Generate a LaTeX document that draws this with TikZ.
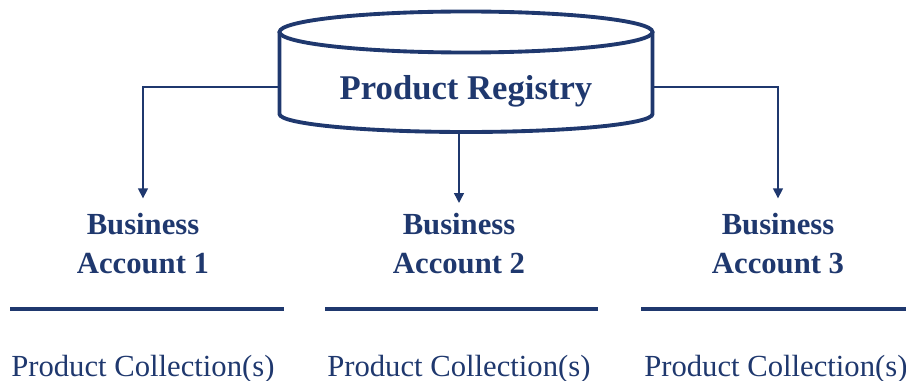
\documentclass[tikz,border=0pt]{standalone}
\usepackage{fontspec}
\setmainfont{Liberation Serif}
\usetikzlibrary{arrows.meta}
\usepackage{xcolor}
\definecolor{navy}{RGB}{31,56,110}

\begin{document}
\begin{tikzpicture}[x=0.75pt, y=-0.75pt,
  every node/.style={inner sep=0pt, text=navy},
  registry/.style={font=\fontsize{26}{30}\selectfont\bfseries,
                   minimum width=279.75pt, minimum height=67.5pt,
                   text depth=0pt},
  account/.style={font=\fontsize{23}{29}\selectfont\bfseries,
                  align=center, anchor=north},
  collection/.style={font=\fontsize{23}{28}\selectfont, anchor=base west},
  drum/.style={draw=navy, line width=2.9pt},
  rule/.style={navy, line width=2.5pt},
  arrow/.style={-{Triangle[length=7.5pt, width=7.5pt]}, navy, line width=1.1pt}]
\useasboundingbox (0,0) rectangle (906,381);
% the registry drum
\draw[drum] (466,32) ellipse [x radius=186.5, y radius=20.5];
\draw[drum] (279.5,32) -- (279.5,114)
  arc [start angle=180, end angle=0, x radius=186.5, y radius=18] -- (652.5,32);
\node[registry] (reg) at (466,87) {Product Registry};
% accounts
\node[account] (acc1) at (143,213) {Business\\Account 1};
\node[account] (acc2) at (459,213) {Business\\Account 2};
\node[account] (acc3) at (778,213) {Business\\Account 3};
\draw[arrow, shorten >=11pt] (reg.west) -| (acc1.north);
\draw[arrow, shorten >=7.5pt] (acc2.north |- reg.south) -- (acc2.north);
\draw[arrow, shorten >=11pt] (reg.east) -| (acc3.north);
% collections under each account
\draw[rule] (10,309) -- (284,309);
\draw[rule] (325,309) -- (598,309);
\draw[rule] (641,309) -- (906,309);
\node[collection] (col1) at (11,376) {Product Collection(s)};
\node[collection] (col2) at (327,376) {Product Collection(s)};
\node[collection] (col3) at (644,376) {Product Collection(s)};
\end{tikzpicture}
\end{document}
